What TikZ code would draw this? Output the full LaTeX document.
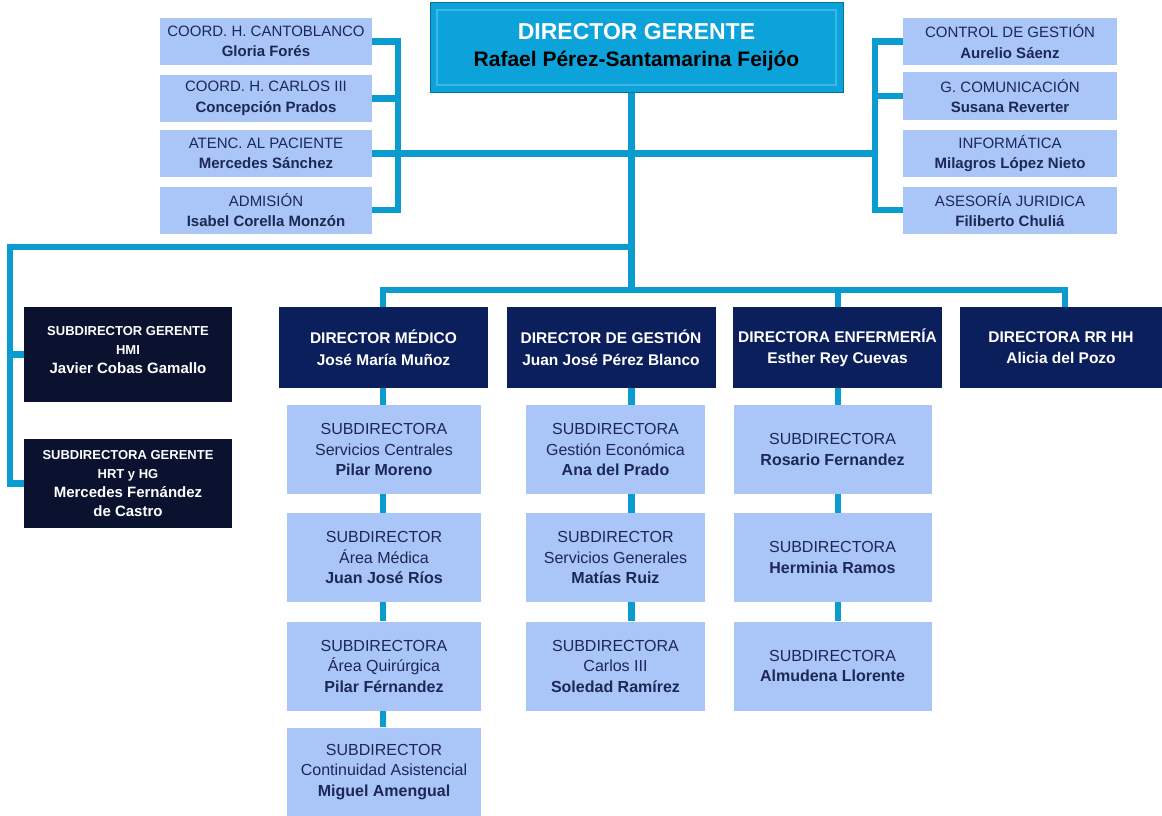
\documentclass[tikz,border=0pt]{standalone}
\usepackage{fontspec}
\setmainfont{Liberation Sans}
\usetikzlibrary{positioning}

\definecolor{linea}{HTML}{0A9BCF}
\definecolor{cian}{HTML}{0BA3DA}
\definecolor{cianclaro}{HTML}{3CB8E6}
\definecolor{cianoscuro}{HTML}{076E98}
\definecolor{claro}{HTML}{AAC5F8}
\definecolor{marino}{HTML}{0B1F5C}
\definecolor{noche}{HTML}{0A1230}
\definecolor{tinta}{HTML}{1C2856}

\newcommand{\cargo}[2]{#1\\\textbf{#2}}

\begin{document}
\begin{tikzpicture}[
  x=1pt, y=-1pt,
  conector/.style={draw=linea, line width=6.5pt},
  staff/.style={fill=claro, text=tinta, minimum width=212pt, minimum height=47pt,
    inner sep=0pt, align=center, font=\fontsize{15}{20.5}\selectfont},
  director/.style={fill=marino, text=white, minimum width=209pt, minimum height=81pt,
    inner sep=0pt, align=center, font=\fontsize{15.5}{21.5}\selectfont\bfseries},
  gerente/.style={fill=noche, text=white, minimum width=208pt,
    inner sep=0pt, align=center, font=\fontsize{15}{19}\selectfont\bfseries},
  subdir/.style={fill=claro, text=tinta, minimum height=89pt,
    inner sep=0pt, align=center, font=\fontsize{16}{20.5}\selectfont}
  ]
  % marco de la figura
  \useasboundingbox (0,0) rectangle (1162,816);

  % director gerente
  \node[fill=cian, draw=cianoscuro, line width=1pt, minimum width=413pt, minimum height=89pt]
    (marco) at (636.5,47.5) {};
  \node[fill=cian, draw=cianclaro, line width=1.5pt, minimum width=399pt, minimum height=75pt,
    align=center, inner sep=0pt, font=\fontsize{21}{27}\selectfont\bfseries] (dg) at (636.5,47.5)
    {{\fontsize{23}{27}\selectfont\color{white}DIRECTOR GERENTE}\\
     {\color{black}Rafael Pérez-Santamarina Feijóo}};

  % staff izquierda
  \node[staff] (cant) at (266,41.5) {\cargo{COORD. H. CANTOBLANCO}{Gloria Forés}};
  \node[staff] (carl) at (266,98.5) {\cargo{COORD. H. CARLOS III}{Concepción Prados}};
  \node[staff] (pac)  at (266,153.5) {\cargo{ATENC. AL PACIENTE}{Mercedes Sánchez}};
  \node[staff] (adm)  at (266,210) {\cargo{ADMISIÓN}{Isabel Corella Monzón}};

  % staff derecha
  \node[staff, minimum width=214pt] (ctrl) at (1010,41.5) {\cargo{CONTROL DE GESTIÓN}{Aurelio Sáenz}};
  \node[staff, minimum width=214pt] (com)  at (1010,96) {\cargo{G. COMUNICACIÓN}{Susana Reverter}};
  \node[staff, minimum width=214pt] (inf)  at (1010,153.5) {\cargo{INFORMÁTICA}{Milagros López Nieto}};
  \node[staff, minimum width=214pt] (jur)  at (1010,210) {\cargo{ASESORÍA JURIDICA}{Filiberto Chuliá}};

  % subdirectores gerentes
  \node[gerente, minimum height=95pt] (hmi) at (128,354.5)
    {{\fontsize{13}{18}\selectfont SUBDIRECTOR GERENTE}\\{\fontsize{13}{18}\selectfont HMI}\\Javier Cobas Gamallo\\[-9pt]};
  \node[gerente, minimum height=89pt] (hrt) at (128,483.5)
    {{\fontsize{13}{18}\selectfont SUBDIRECTORA GERENTE}\\{\fontsize{13}{18}\selectfont HRT y HG}\\Mercedes Fernández\\de Castro};

  % directores
  \node[director] (med) at (383.5,347.5) {DIRECTOR MÉDICO\\José María Muñoz};
  \node[director] (ges) at (611,347.5) {DIRECTOR DE GESTIÓN\\Juan José Pérez Blanco};
  \node[director] (enf) at (837.5,347.5) {DIRECTORA ENFERMERÍA\\Esther Rey Cuevas};
  \node[director, minimum width=202pt] (rrhh) at (1061,347.5) {DIRECTORA RR HH\\Alicia del Pozo};

  % columna medica
  \node[subdir, minimum width=194pt] (m1) at (384,449.5) {SUBDIRECTORA\\Servicios Centrales\\\textbf{Pilar Moreno}};
  \node[subdir, minimum width=194pt] (m2) at (384,557.5) {SUBDIRECTOR\\Área Médica\\\textbf{Juan José Ríos}};
  \node[subdir, minimum width=194pt] (m3) at (384,666) {SUBDIRECTORA\\Área Quirúrgica\\\textbf{Pilar Férnandez}};
  \node[subdir, minimum width=194pt] (m4) at (384,772) {SUBDIRECTOR\\Continuidad Asistencial\\\textbf{Miguel Amengual}};

  % columna gestion
  \node[subdir, minimum width=179pt] (g1) at (615.5,449.5) {SUBDIRECTORA\\Gestión Económica\\\textbf{Ana del Prado}};
  \node[subdir, minimum width=179pt] (g2) at (615.5,557.5) {SUBDIRECTOR\\Servicios Generales\\\textbf{Matías Ruiz}};
  \node[subdir, minimum width=179pt] (g3) at (615.5,666) {SUBDIRECTORA\\Carlos III\\\textbf{Soledad Ramírez}};

  % columna enfermeria
  \node[subdir, minimum width=198pt] (e1) at (832.5,449.5) {SUBDIRECTORA\\\textbf{Rosario Fernandez}};
  \node[subdir, minimum width=198pt] (e2) at (832.5,557.5) {SUBDIRECTORA\\\textbf{Herminia Ramos}};
  \node[subdir, minimum width=198pt] (e3) at (832.5,666) {SUBDIRECTORA\\\textbf{Almudena Llorente}};

  % puntos de las lineas
  \coordinate (tronco) at (631.5,0);
  \coordinate (llave) at (398,0);
  \coordinate (llaved) at (875,0);
  \coordinate (izq) at (10,0);
  \coordinate (barra) at (0,290);
  \coordinate (rama) at (0,247);
  \coordinate (colm) at (383,0);
  \coordinate (cole) at (838,0);
  \coordinate (colr) at (1065,0);

  % tronco central
  \draw[conector] (marco.south -| tronco) -- (barra -| tronco);
  % llaves de staff
  \draw[conector] (cant.east) -| (adm.east -| llave) -- (adm.east);
  \draw[conector] (carl.east) -- (carl.east -| llave);
  \draw[conector] (pac.east) -- (pac.east -| llaved);
  \draw[conector] (ctrl.west) -| (jur.west -| llaved) -- (jur.west);
  \draw[conector] (com.west) -- (com.west -| llaved);
  % rama de subdirectores gerentes
  \draw[conector] (rama -| tronco) -- (rama -| izq) -- (hrt.west -| izq) -- (hrt.west);
  \draw[conector] (hmi.west -| izq) -- (hmi.west);
  % barra de directores
  \draw[conector] (med.north -| colm) |- (barra -| colr) -- (rrhh.north -| colr);
  \draw[conector] (barra -| cole) -- (enf.north -| cole);
  % columnas
  \foreach \a/\b in {med/m1, m1/m2, m2/m3, m3/m4}
    \draw[conector] (\a.south -| colm) -- (\b.north -| colm);
  \foreach \a/\b in {ges/g1, g1/g2, g2/g3}
    \draw[conector] (\a.south -| tronco) -- (\b.north -| tronco);
  \foreach \a/\b in {enf/e1, e1/e2, e2/e3}
    \draw[conector] (\a.south -| cole) -- (\b.north -| cole);
\end{tikzpicture}
\end{document}
